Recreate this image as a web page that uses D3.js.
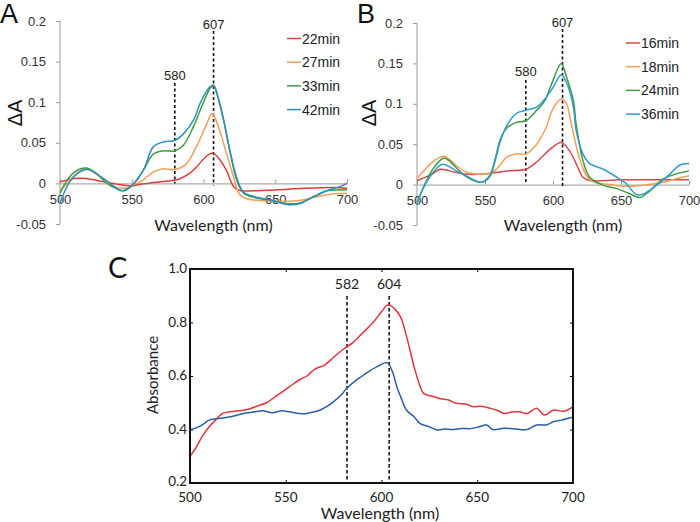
<!DOCTYPE html>
<html><head><meta charset="utf-8">
<script src="https://cdn.jsdelivr.net/npm/d3@7"></script>
<style>body{margin:0;background:#fff}svg{display:block}</style>
</head><body>
<svg id="c" width="700" height="522"></svg>
<script>
// ---------- data ----------
const tickWl = [500, 550, 600, 650, 700];
const dATicks = [-0.05, 0, 0.05, 0.1, 0.15, 0.2];
const dALabels = ["-0.05", "0", "0.05", "0.1", "0.15", "0.2"];
const absTicks = [0.2, 0.4, 0.6, 0.8, 1.0];

const seriesNamesA = ["22min", "27min", "33min", "42min"];
const seriesNamesB = ["16min", "18min", "24min", "36min"];
const colorsA = ["#e23b3b", "#f2a055", "#3e9b3e", "#2f8dc2"];
const colorsB = ["#d9474a", "#f2a055", "#3e9b3e", "#2f9bd0"];

const a22 = [[500,0.002],[505,0.004],[510,0.006],[518,0.006],[525,0.004],[533,0.001],[540,-0.001],[550,-0.003],[556,-0.001],[565,0.001],[575,0.003],[580,0.004],[585,0.007],[590,0.012],[595,0.02],[600,0.03],[604,0.036],[607,0.037],[611,0.03],[616,0.016],[621,-0.004],[626,-0.009],[635,-0.009],[650,-0.008],[670,-0.006],[690,-0.005],[700,-0.006]];
const a27 = [[500,-0.008],[505,0.0],[510,0.01],[518,0.018],[525,0.012],[532,0.002],[538,-0.004],[545,-0.006],[551,-0.002],[558,0.004],[565,0.014],[572,0.018],[580,0.017],[588,0.024],[595,0.045],[602,0.072],[606,0.086],[610,0.072],[616,0.037],[621,0.008],[625,-0.013],[630,-0.019],[640,-0.021],[650,-0.022],[660,-0.022],[670,-0.02],[680,-0.016],[690,-0.013],[700,-0.012]];
const a33 = [[500,-0.012],[505,0.004],[510,0.014],[518,0.019],[525,0.013],[532,0.001],[540,-0.007],[545,-0.009],[551,-0.001],[558,0.016],[565,0.036],[572,0.04],[580,0.04],[586,0.047],[593,0.07],[600,0.1],[605,0.118],[607,0.12],[611,0.1],[615,0.07],[619,0.035],[623,0.005],[628,-0.012],[637,-0.018],[648,-0.021],[658,-0.025],[667,-0.024],[677,-0.016],[686,-0.009],[695,-0.008],[700,-0.008]];
const a42 = [[500,-0.025],[506,0.0],[512,0.012],[519,0.017],[526,0.011],[535,0.0],[543,-0.009],[551,-0.001],[558,0.016],[565,0.045],[572,0.051],[580,0.053],[586,0.061],[593,0.078],[598,0.1],[604,0.118],[607,0.121],[611,0.1],[614,0.078],[618,0.043],[623,0.008],[628,-0.011],[637,-0.017],[648,-0.021],[658,-0.026],[667,-0.025],[676,-0.017],[686,-0.009],[695,-0.004],[700,0.0]];

const b16 = [[500,0.005],[510,0.012],[517,0.019],[524,0.017],[534,0.013],[549,0.013],[558,0.015],[568,0.017],[580,0.019],[588,0.028],[598,0.044],[606,0.052],[612,0.042],[617,0.026],[622,0.009],[627,0.005],[650,0.006],[700,0.006]];
const b18 = [[500,0.008],[505,0.017],[510,0.026],[517,0.034],[520,0.035],[524,0.031],[530,0.022],[537,0.015],[549,0.013],[556,0.016],[561,0.024],[566,0.034],[573,0.038],[580,0.038],[588,0.05],[595,0.071],[600,0.094],[606,0.106],[610,0.1],[612,0.087],[615,0.063],[620,0.03],[625,0.01],[630,0.003],[642,0.0],[652,-0.002],[665,-0.001],[681,0.003],[690,0.007],[700,0.011]];
const b24 = [[500,-0.022],[503,-0.01],[507,0.005],[512,0.02],[517,0.03],[520,0.033],[524,0.029],[530,0.019],[537,0.009],[546,0.003],[550,0.005],[554,0.013],[558,0.035],[561,0.055],[566,0.07],[573,0.077],[580,0.079],[588,0.092],[594,0.104],[600,0.129],[606,0.15],[610,0.133],[615,0.104],[617,0.075],[622,0.03],[627,0.009],[637,-0.001],[647,-0.005],[656,-0.011],[664,-0.016],[671,-0.008],[681,0.007],[690,0.013],[700,0.017]];
const b36 = [[500,-0.025],[503,-0.01],[506,0.0],[510,0.011],[517,0.024],[520,0.025],[524,0.022],[530,0.016],[537,0.01],[546,0.003],[550,0.004],[554,0.011],[558,0.033],[561,0.052],[566,0.073],[573,0.088],[580,0.092],[588,0.096],[594,0.106],[600,0.12],[606,0.136],[610,0.126],[615,0.096],[617,0.067],[622,0.038],[627,0.026],[637,0.019],[647,0.009],[654,0.001],[661,-0.012],[666,-0.012],[676,-0.001],[686,0.013],[693,0.024],[700,0.026]];

const cRed = [[500,0.30],[503,0.33],[506,0.37],[510,0.41],[514,0.44],[517,0.46],[520,0.465],[525,0.47],[530,0.475],[536,0.49],[540,0.50],[544,0.52],[548,0.54],[552,0.56],[557,0.585],[561,0.60],[565,0.625],[570,0.64],[575,0.67],[580,0.70],[585,0.725],[590,0.76],[595,0.795],[600,0.84],[603,0.865],[605,0.862],[607,0.85],[610,0.82],[613,0.75],[617,0.635],[620,0.565],[622,0.535],[626,0.525],[631,0.515],[635,0.51],[639,0.498],[644,0.495],[648,0.485],[652,0.487],[657,0.479],[661,0.47],[664,0.46],[668,0.465],[672,0.466],[676,0.46],[681,0.479],[685,0.454],[690,0.473],[695,0.468],[700,0.485]];
const cBlue = [[500,0.40],[503,0.405],[507,0.42],[510,0.435],[514,0.44],[519,0.445],[524,0.452],[528,0.46],[533,0.465],[538,0.47],[543,0.463],[548,0.47],[552,0.466],[557,0.46],[561,0.46],[565,0.466],[568,0.473],[572,0.488],[575,0.504],[579,0.53],[582,0.555],[586,0.58],[590,0.6],[594,0.62],[598,0.636],[603,0.65],[606,0.61],[608,0.56],[610,0.523],[613,0.473],[617,0.448],[620,0.423],[625,0.41],[629,0.398],[633,0.402],[637,0.40],[642,0.404],[646,0.403],[650,0.408],[655,0.417],[658,0.40],[664,0.405],[669,0.403],[676,0.40],[681,0.417],[686,0.417],[690,0.43],[694,0.435],[699,0.445],[700,0.445]];

const markersAB = [580, 607];
const markersC = [582, 604];

// ---------- drawing ----------
const svg = d3.select("#c");
const sans = "'Liberation Sans', Arial, sans-serif";
const cal = "Lato, 'Open Sans', sans-serif";

function panelAB(opts) {
  const {x, y, series, names, colors, letter, letterX, legendX, legendY0, markTop, label580Y, label607Y, ylabX} = opts;
  const g = svg.append("g");
  const ya = g.append("g").attr("transform", `translate(${x.range()[0]},0)`)
    .call(d3.axisLeft(y).tickValues(dATicks).tickSize(4).tickPadding(10)
      .tickFormat((d, i) => dALabels[i]));
  ya.selectAll("path,line").attr("stroke", "#9a9a9a");
  ya.selectAll("text").attr("font-family", sans).attr("font-size", 13).attr("fill", "#333");
  ya.select(".domain").attr("d", `M-0,${y(0.2)}H0V${y(-0.05)}H-0`);
  const xa = g.append("g").attr("transform", `translate(0,${y(0)})`)
    .call(d3.axisBottom(x).tickValues(tickWl).tickSizeInner(-4).tickSizeOuter(0).tickPadding(11));
  xa.selectAll("path,line").attr("stroke", "#9a9a9a");
  xa.selectAll("text").attr("font-family", sans).attr("font-size", 13).attr("fill", "#333");
  g.append("line").attr("x1", x(markersAB[0])).attr("x2", x(markersAB[0]))
    .attr("y1", markTop[0]).attr("y2", y(0)).attr("stroke", "#111").attr("stroke-width", 1.6).attr("stroke-dasharray", "3,2.5");
  g.append("line").attr("x1", x(markersAB[1])).attr("x2", x(markersAB[1]))
    .attr("y1", markTop[1]).attr("y2", y(0) + 2).attr("stroke", "#111").attr("stroke-width", 1.6).attr("stroke-dasharray", "3,2.5");
  g.append("text").attr("x", x(markersAB[0])).attr("y", label580Y).attr("text-anchor", "middle")
    .attr("font-family", sans).attr("font-size", 13).attr("fill", "#222").text(String(markersAB[0]));
  g.append("text").attr("x", x(markersAB[1])).attr("y", label607Y).attr("text-anchor", "middle")
    .attr("font-family", sans).attr("font-size", 13).attr("fill", "#222").text(String(markersAB[1]));
  const line = d3.line().x(d => x(d[0])).y(d => y(d[1])).curve(d3.curveCatmullRom.alpha(0.5));
  series.forEach((s, i) => {
    g.append("path").attr("d", line(s)).attr("fill", "none").attr("stroke", colors[i]).attr("stroke-width", 1.5);
  });
  names.forEach((n, i) => {
    const ly = legendY0 + i * 23.7;
    g.append("line").attr("x1", legendX).attr("x2", legendX + 14).attr("y1", ly).attr("y2", ly)
      .attr("stroke", colors[i]).attr("stroke-width", 1.5);
    g.append("text").attr("x", legendX + 15).attr("y", ly + 5).attr("font-family", sans)
      .attr("font-size", 14).attr("fill", "#222").text(n);
  });
  g.append("text").attr("x", (x.range()[0] + x.range()[1]) / 2 + 10).attr("y", 231).attr("text-anchor", "middle")
    .attr("font-family", cal).attr("font-size", 16).attr("fill", "#222").text("Wavelength (nm)");
  g.append("text").attr("transform", `translate(${ylabX},113) rotate(-90)`).attr("text-anchor", "middle")
    .attr("font-family", sans).attr("font-size", 20).attr("fill", "#111").text("ΔA");
  g.append("text").attr("x", letterX).attr("y", 23).attr("font-family", sans).attr("font-size", 27)
    .attr("fill", "#111").text(letter);
}

panelAB({
  x: d3.scaleLinear([500, 700], [60, 347]),
  y: d3.scaleLinear([-0.05, 0.2], [224, 21]),
  series: [a22, a27, a33, a42], names: seriesNamesA, colors: colorsA,
  letter: "A", letterX: 0, legendX: 287, legendY0: 38.5,
  markTop: [83, 31], label580Y: 80, label607Y: 29, ylabX: 22
});
panelAB({
  x: d3.scaleLinear([500, 700], [417, 689]),
  y: d3.scaleLinear([-0.05, 0.2], [225, 23]),
  series: [b16, b18, b24, b36], names: seriesNamesB, colors: colorsB,
  letter: "B", letterX: 357, legendX: 626, legendY0: 43,
  markTop: [80, 29], label580Y: 76, label607Y: 27, ylabX: 376
});

// ---------- panel C ----------
const xC = d3.scaleLinear([500, 700], [190, 573]);
const yC = d3.scaleLinear([0.2, 1.0], [483, 269]);
const gC = svg.append("g");
const yaxC = gC.append("g").attr("transform", `translate(190,0)`)
  .call(d3.axisRight(yC).tickValues(absTicks).tickSize(3).tickFormat(""));
yaxC.select(".domain").remove();
absTicks.forEach(t => {
  gC.append("text").attr("x", 187).attr("y", yC(t) + (t === 0.2 ? 2.5 : 4)).attr("text-anchor", "end")
    .attr("font-family", cal).attr("font-size", 13.5).attr("fill", "#222").text(d3.format(".1f")(t));
});
const yaxCR = gC.append("g").attr("transform", `translate(573,0)`)
  .call(d3.axisLeft(yC).tickValues(absTicks).tickSize(3).tickFormat(""));
yaxCR.select(".domain").remove();
const xaxC = gC.append("g").attr("transform", `translate(0,483)`)
  .call(d3.axisTop(xC).tickValues(tickWl).tickSize(3).tickFormat(""));
xaxC.select(".domain").remove();
const xaxCT = gC.append("g").attr("transform", `translate(0,269)`)
  .call(d3.axisBottom(xC).tickValues(tickWl).tickSize(3).tickFormat(""));
xaxCT.select(".domain").remove();
tickWl.forEach(t => {
  gC.append("text").attr("x", xC(t)).attr("y", 501.5).attr("text-anchor", "middle")
    .attr("font-family", cal).attr("font-size", 13.5).attr("fill", "#222").text(t);
});
markersC.forEach(m => {
  gC.append("line").attr("x1", xC(m)).attr("x2", xC(m)).attr("y1", 296).attr("y2", 483)
    .attr("stroke", "#111").attr("stroke-width", 1.6).attr("stroke-dasharray", "3.5,2.5");
  gC.append("text").attr("x", xC(m)).attr("y", 289).attr("text-anchor", "middle")
    .attr("font-family", cal).attr("font-size", 14).attr("fill", "#222").text(m);
});
const lineC = d3.line().x(d => xC(d[0])).y(d => yC(d[1])).curve(d3.curveCatmullRom.alpha(0.5));
gC.append("path").attr("d", lineC(cRed)).attr("fill", "none").attr("stroke", "#e0353e").attr("stroke-width", 1.5);
gC.append("path").attr("d", lineC(cBlue)).attr("fill", "none").attr("stroke", "#2c5ea8").attr("stroke-width", 1.5);
gC.append("rect").attr("x", 190).attr("y", 269).attr("width", 573 - 190).attr("height", 483 - 269)
  .attr("fill", "none").attr("stroke", "#111").attr("stroke-width", 2);
gC.append("text").attr("x", 380).attr("y", 519).attr("text-anchor", "middle")
  .attr("font-family", cal).attr("font-size", 16).attr("fill", "#222").text("Wavelength (nm)");
gC.append("text").attr("transform", "translate(158,375) rotate(-90)").attr("text-anchor", "middle")
  .attr("font-family", cal).attr("font-size", 15).attr("fill", "#222").text("Absorbance");
gC.append("text").attr("x", 108).attr("y", 278).attr("font-family", cal).attr("font-size", 29)
  .attr("fill", "#111").text("C");
</script>
</body></html>
